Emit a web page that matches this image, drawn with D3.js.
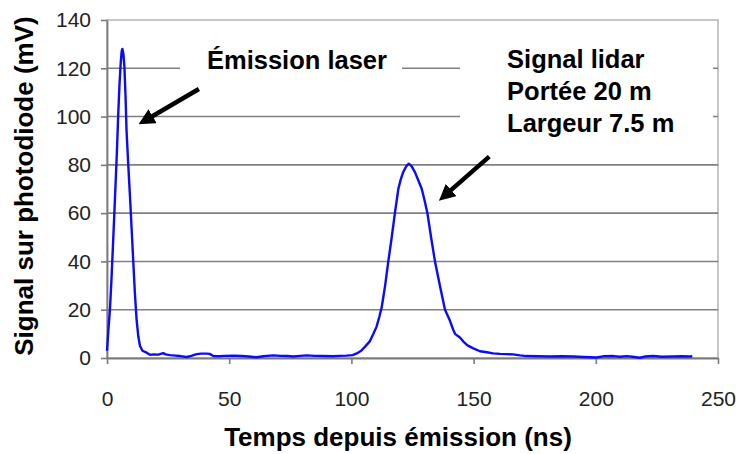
<!DOCTYPE html>
<html><head><meta charset="utf-8">
<script src="https://cdn.jsdelivr.net/npm/d3@7"></script>
<style>
html,body{margin:0;padding:0;background:#fff;}
svg{display:block;font-family:"Liberation Sans",Arial,sans-serif;}
</style></head>
<body>
<svg id="c" width="736" height="454"></svg>
<script>
// ---- data ----
const timeNs = [0,0.6,1.2,1.8,2.5,3.3,4,4.6,5.1,5.6,6,6.3,6.7,7.1,7.6,8,8.7,9.4,10.1,10.8,11.4,12.1,12.8,13.5,14.5,16.2,17.6,19,21,23,24,25.8,28,30,32.6,34.5,36.7,38.5,40.8,42,43.5,46,48,51.7,55,58,61.2,64,68,71,74,76.2,79,81.7,85,88,92.6,95,98,100.5,102.2,104,105.6,107.6,109,110.3,111.4,112.4,113.8,115.1,116.5,117.8,119.2,120.2,121.2,122.5,123.5,124.6,126,127.4,128.8,130,131.1,132.6,134.2,136.2,138.3,140.3,141.7,142.4,144.4,145.8,147.5,149.9,152.6,155.4,158,160.8,163,166.2,169,171.7,176,181.3,186,190.8,195,200.3,203,207.2,210,212.6,215,218,220,223.5,227,231.7,235,238.5,239.5];
const signalMv = [3,12,20,32,48,67,84,101,113,122,127,128,126,121,108,94,80,67,53,39,27,16,9,5,3,2.2,1.3,1.5,1.4,2,1.5,1.2,1,0.8,0.4,0.9,1.6,1.8,1.8,1.7,0.8,0.7,0.9,1,0.8,0.6,0.3,0.7,1.1,0.9,0.8,0.6,0.9,1.1,0.9,0.8,0.7,0.9,1,1.2,1.9,3,4.7,7,10,13,17,21,30,40,50,60,70,74,77,79.5,80.5,79.5,77,73.5,70,65,60,50,40,30,20,15.5,11.6,10,8.5,6.8,5.2,4,2.8,2.4,1.9,1.7,1.6,1.5,1.1,0.8,0.7,0.6,0.7,0.6,0.4,0.2,0.7,0.8,0.5,0.8,0.5,0.1,0.6,0.8,0.5,0.6,0.7,0.6,0.7];
const xTicks = [0,50,100,150,200,250];
const yTicks = [0,20,40,60,80,100,120,140];
const xTitle = "Temps depuis émission (ns)";
const yTitle = "Signal sur photodiode (mV)";
const laserLabel = "Émission laser";
const lidarLines = ["Signal lidar","Portée 20 m","Largeur 7.5 m"];

// ---- layout ----
const svg = d3.select("#c");
const L = 107, R = 718, T = 20, B = 358;
const x = d3.scaleLinear().domain([0,250]).range([L,R]);
const y = d3.scaleLinear().domain([0,140]).range([B,T]);

// plot border
svg.append("rect").attr("x",L).attr("y",T).attr("width",R-L).attr("height",B-T)
  .attr("fill","none").attr("stroke","#b4b4b4").attr("stroke-width",1.5);

// gridlines
svg.append("g").selectAll("line").data(yTicks.filter(v=>v>0 && v<140)).join("line")
  .attr("x1",L).attr("x2",R).attr("y1",d=>y(d)).attr("y2",d=>y(d))
  .attr("stroke","#808080").attr("stroke-width",1.6);

// white label boxes (hide gridlines behind text)
svg.append("rect").attr("x",180).attr("y",48).attr("width",222).attr("height",34).attr("fill","#fff");
svg.append("rect").attr("x",460).attr("y",38).attr("width",253).attr("height",108).attr("fill","#fff");

// axes
const xAxis = d3.axisBottom(x).tickValues(xTicks).tickSize(6).tickSizeOuter(0).tickPadding(27);
const yAxis = d3.axisLeft(y).tickValues(yTicks).tickSize(6).tickSizeOuter(0).tickPadding(10);
const gx = svg.append("g").attr("transform",`translate(0,${B})`).call(xAxis);
const gy = svg.append("g").attr("transform",`translate(${L},0)`).call(yAxis);
[gx,gy].forEach(g=>{
  g.select(".domain").attr("stroke","#7a7a7a").attr("stroke-width",1.8);
  g.selectAll(".tick line").attr("stroke","#7a7a7a").attr("stroke-width",1.6);
  g.selectAll(".tick text").attr("fill","#222").attr("font-size",21)
   .attr("font-family","'Liberation Sans',Arial,sans-serif");
});

// curve
const line = d3.line().x((d,i)=>x(timeNs[i])).y(d=>y(d));
svg.append("path").datum(signalMv).attr("d",line)
  .attr("fill","none").attr("stroke","#0a0aff").attr("stroke-width",2.4)
  .attr("stroke-linejoin","round");

// titles
svg.append("text").attr("x",398).attr("y",446).attr("text-anchor","middle")
  .attr("font-weight","bold").attr("font-size",26).attr("fill","#000").text(xTitle);
svg.append("text").attr("transform","translate(33,186) rotate(-90)").attr("text-anchor","middle")
  .attr("font-weight","bold").attr("font-size",26).attr("fill","#000").text(yTitle);

// annotations
svg.append("text").attr("x",x(40.9)).attr("y",69)
  .attr("font-weight","bold").attr("font-size",25.5).attr("fill","#000").text(laserLabel);
svg.append("g").selectAll("text").data(lidarLines).join("text")
  .attr("x",x(163.7)).attr("y",(d,i)=>68+i*32)
  .attr("font-weight","bold").attr("font-size",25.5).attr("fill","#000").text(d=>d);

// arrows
const defs = svg.append("defs");
defs.append("marker").attr("id","ah").attr("viewBox","0 0 10 10").attr("refX",2).attr("refY",5)
  .attr("markerWidth",3.6).attr("markerHeight",3.6).attr("orient","auto")
  .append("path").attr("d","M0,0 L10,5 L0,10 z").attr("fill","#000");
const arrows = [
  {x1:37.6,y1:111.4,x2:17.5,y2:99.5},
  {x1:156.4,y1:83.4,x2:139.8,y2:68.7}
];
svg.append("g").selectAll("line").data(arrows).join("line")
  .attr("x1",d=>x(d.x1)).attr("y1",d=>y(d.y1)).attr("x2",d=>x(d.x2)).attr("y2",d=>y(d.y2))
  .attr("stroke","#000").attr("stroke-width",4.5).attr("marker-end","url(#ah)");
</script>
</body></html>
